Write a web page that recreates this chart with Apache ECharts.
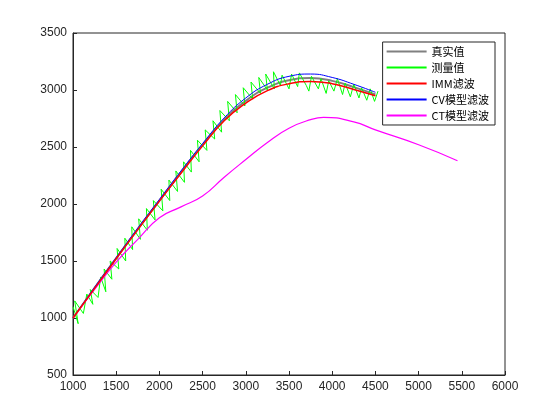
<!DOCTYPE html>
<html>
<head>
<meta charset="utf-8">
<script src="https://cdn.jsdelivr.net/npm/echarts@6/dist/echarts.min.js"></script>
<style>html,body{margin:0;padding:0;background:#fff}#panel{width:560px;height:420px}</style>
</head>
<body>
<div id="panel"></div>
<script>
// 真实轨迹 / 各滤波结果
var trueVals = [[1000,1000],[1250,1265],[1500,1525],[1750,1780],[2000,2030],[2250,2280],[2500,2520],[2750,2740],[3000,2905],[3250,3020],[3500,3085],[3750,3105],[4000,3080],[4250,3025],[4500,2960]];
var measVals = [[1000,1100],[1060,950],[1020,1150],[1120,1040],[1160,1210],[1230,1120],[1200,1250],[1290,1180],[1320,1360],[1380,1230],[1360,1430],[1450,1340],[1430,1500],[1530,1430],[1510,1610],[1610,1500],[1600,1700],[1690,1600],[1680,1800],[1780,1690],[1760,1870],[1860,1770],[1850,1960],[1950,1860],[1930,2030],[2040,1940],[2020,2130],[2120,2030],[2110,2210],[2210,2110],[2190,2290],[2290,2190],[2280,2370],[2370,2280],[2360,2470],[2460,2370],[2440,2560],[2550,2470],[2530,2650],[2640,2570],[2620,2730],[2720,2630],[2700,2820],[2810,2730],[2790,2900],[2900,2800],[2880,2960],[2990,2860],[2970,3020],[3080,2920],[3060,3070],[3170,2970],[3150,3110],[3250,3000],[3230,3140],[3330,3010],[3320,3160],[3400,3040],[3420,3130],[3500,3010],[3530,3140],[3600,3030],[3620,3150],[3700,3040],[3730,2990],[3760,3120],[3840,3010],[3870,3100],[3930,2970],[3960,3080],[4020,2990],[4060,3100],[4120,2960],[4150,3060],[4210,2940],[4250,3050],[4310,2930],[4340,3020],[4400,2910],[4440,3010],[4490,2900],[4530,2990]];
var immVals = [[1000,1000],[1250,1260],[1500,1520],[1750,1775],[2000,2025],[2250,2270],[2500,2510],[2750,2730],[3000,2885],[3250,2995],[3500,3055],[3750,3075],[4000,3055],[4250,3005],[4500,2950]];
var cvVals = [[1000,1000],[1250,1270],[1500,1530],[1750,1790],[2000,2040],[2250,2290],[2500,2530],[2750,2755],[3000,2930],[3250,3050],[3500,3120],[3750,3140],[4000,3110],[4250,3050],[4500,2980]];
var ctVals = [[1000,1000],[1250,1250],[1500,1490],[1750,1690],[2000,1880],[2250,1975],[2500,2070],[2750,2235],[3000,2390],[3250,2540],[3500,2665],[3750,2740],[3900,2760],[4250,2720],[4500,2650],[5000,2520],[5450,2380]];

var myChart = echarts.init(document.getElementById('panel'));
function line(name, data, color, w, z, smooth) {
    return { name: name, type: 'line', data: data, symbol: 'none', z: z, smooth: smooth,
        lineStyle: { color: color, width: w }, itemStyle: { color: color } };
}
var ax = {
    axisLine: { show: true, lineStyle: { color: '#262626' } },
    axisTick: { show: true, inside: true, length: 4, lineStyle: { color: '#262626' } },
    axisLabel: { color: '#262626', fontSize: 12, margin: 6, formatter: function (v) { return String(v); } },
    splitLine: { show: false }
};
myChart.setOption({
    animation: false,
    textStyle: { fontFamily: 'Liberation Sans, Noto Sans CJK SC' },
    grid: { left: 73, right: 55, top: 33, bottom: 45, show: true, borderColor: '#262626', borderWidth: 1 },
    xAxis: Object.assign({ type: 'value', min: 1000, max: 6000, interval: 500 }, ax),
    yAxis: Object.assign({ type: 'value', min: 500, max: 3500, interval: 500 }, ax),
    legend: { orient: 'vertical', right: 65, top: 42, backgroundColor: '#fff',
        borderColor: '#262626', borderWidth: 1, padding: [4, 6, 4, 4], itemGap: 5,
        icon: 'rect', itemWidth: 40, itemHeight: 2,
        textStyle: { fontSize: 11, color: '#000', fontFamily: 'Noto Sans CJK SC' } },
    series: [
        line('真实值', trueVals, '#808080', 2, 1, true),
        line('测量值', measVals, '#00ff00', 1, 2, false),
        line('IMM滤波', immVals, '#ff0000', 1.5, 4, true),
        line('CV模型滤波', cvVals, '#0000ff', 1, 3, true),
        line('CT模型滤波', ctVals, '#ff00ff', 1.2, 3, true)
    ]
});
</script>
</body>
</html>
